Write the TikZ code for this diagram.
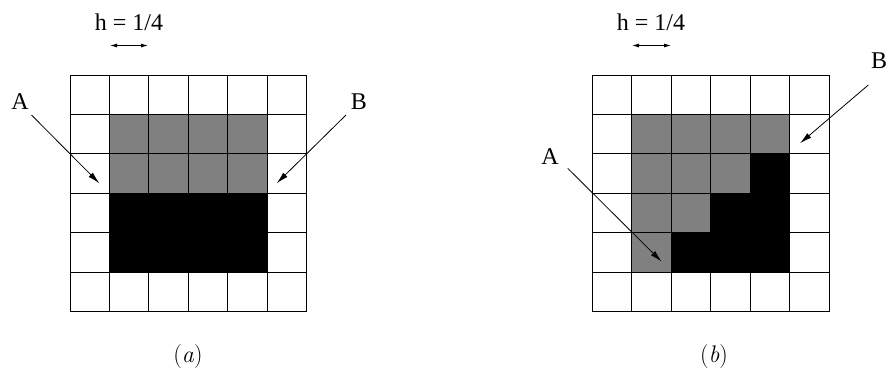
\documentclass[tikz,border=0pt]{standalone}
\usepackage{fontspec}
\setmainfont{Liberation Serif}
\newfontfamily\lmfont{Latin Modern Roman}
\usetikzlibrary{arrows.meta}
\begin{document}
\begin{tikzpicture}[x=1pt,y=-1pt,
  lbl/.style={font=\fontsize{24}{28}\selectfont, inner sep=0pt, anchor=base},
  captext/.style={font=\lmfont\fontsize{24}{28}\selectfont, inner sep=0pt, anchor=base},
  ptr/.style={draw=black, line width=0.8pt, -{Latex[length=12pt,width=6pt]}},
  harrow/.style={draw=black, line width=0.8pt, {Latex[length=7pt,width=4pt]}-{Latex[length=7pt,width=4pt]}},
  gridline/.style={line width=0.9pt, draw=black},
  cellgray/.style={fill=gray},
  cellblack/.style={fill=black}]
\useasboundingbox (0,0) rectangle (889,370);
% left grid
\begin{scope}[shift={(70,75)}, x=39.45pt, y=-39.45pt]
  \fill[cellgray] (1,1) rectangle (5,3);
  \fill[cellblack] (1,3) rectangle (5,5);
  \foreach \i in {0,...,6} {
    \draw[gridline] (\i,0) -- (\i,6);
    \draw[gridline] (0,\i) -- (6,\i);
  }
\end{scope}
% right grid
\begin{scope}[shift={(592.3,75)}, x=39.45pt, y=-39.45pt]
  \fill[cellgray] (1,1) -- (5,1) -- (5,2) -- (4,2) -- (4,3) -- (3,3) -- (3,4) -- (2,4) -- (2,5) -- (1,5) -- cycle;
  \fill[cellblack] (5,2) -- (5,5) -- (2,5) -- (2,4) -- (3,4) -- (3,3) -- (4,3) -- (4,2) -- cycle;
  \foreach \i in {0,...,6} {
    \draw[gridline] (\i,0) -- (\i,6);
    \draw[gridline] (0,\i) -- (6,\i);
  }
\end{scope}
% h labels
\node[lbl] (hA) at (129,30.5) {h = 1/4};
\coordinate (hAl) at (110,45.5);
\coordinate (hAr) at (148,45.5);
\draw[harrow] (hAl) -- (hAr);
\node[lbl] (hB) at (651,30.5) {h = 1/4};
\coordinate (hBl) at (632,45.5);
\coordinate (hBr) at (671,45.5);
\draw[harrow] (hBl) -- (hBr);
% left pointers
\node[lbl] (Aa) at (20,109) {A};
\coordinate (Aas) at (31.5,115);
\coordinate (Aae) at (99.3,183.3);
\draw[ptr] (Aas) -- (Aae);
\node[lbl] (Ba) at (359,109) {B};
\coordinate (Bas) at (346,115);
\coordinate (Bae) at (276.7,183.3);
\draw[ptr] (Bas) -- (Bae);
% right pointers
\node[lbl] (Bb) at (879,68.5) {B};
\coordinate (Bbs) at (868.3,85);
\coordinate (Bbe) at (800,143.3);
\draw[ptr] (Bbs) -- (Bbe);
\node[lbl] (Ab) at (550,164) {A};
\coordinate (Abs) at (567.7,168.3);
\coordinate (Abe) at (661.7,261.7);
\draw[ptr] (Abs) -- (Abe);
% captions
\node[captext] (capa) at (188,362) {(\textit{a})};
\node[captext] (capb) at (714,362) {(\textit{b})};
\end{tikzpicture}
\end{document}
